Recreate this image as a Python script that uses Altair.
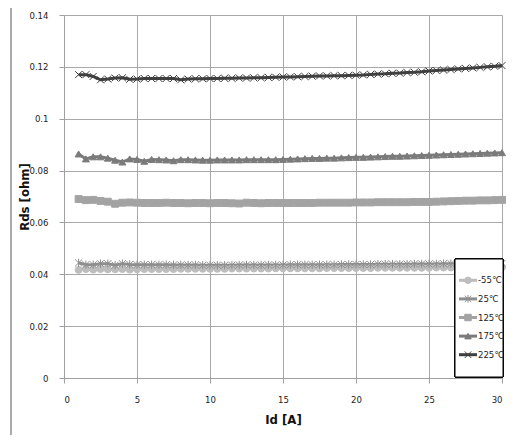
import altair as alt
import pandas as pd

# ---- data ----
id_a = [1.0, 1.5, 2.0, 2.5, 3.0, 3.5, 4.0, 4.5, 5.0, 5.5, 6.0, 6.5, 7.0, 7.5, 8.0, 8.5, 9.0, 9.5,
        10.0, 10.5, 11.0, 11.5, 12.0, 12.5, 13.0, 13.5, 14.0, 14.5, 15.0, 15.5, 16.0, 16.5, 17.0,
        17.5, 18.0, 18.5, 19.0, 19.5, 20.0, 20.5, 21.0, 21.5, 22.0, 22.5, 23.0, 23.5, 24.0, 24.5,
        25.0, 25.5, 26.0, 26.5, 27.0, 27.5, 28.0, 28.5, 29.0, 29.5, 30.0]

r_m55 = [0.0417, 0.0420, 0.0418, 0.0420, 0.0419, 0.0419, 0.0420, 0.0418, 0.0419, 0.0420, 0.0420,
         0.0420, 0.0420, 0.0420, 0.0421, 0.0421, 0.0421, 0.0421, 0.0421, 0.0421, 0.0421, 0.0422,
         0.0422, 0.0422, 0.0422, 0.0422, 0.0422, 0.0423, 0.0423, 0.0423, 0.0423, 0.0423, 0.0423,
         0.0423, 0.0424, 0.0424, 0.0424, 0.0424, 0.0424, 0.0424, 0.0424, 0.0425, 0.0425, 0.0425,
         0.0425, 0.0425, 0.0425, 0.0425, 0.0425, 0.0426, 0.0426, 0.0426, 0.0426, 0.0426, 0.0427,
         0.0427, 0.0427, 0.0427, 0.0427]
r_25 = [0.0444, 0.0437, 0.0437, 0.0441, 0.0441, 0.0435, 0.0441, 0.0438, 0.0437, 0.0437, 0.0437,
        0.0437, 0.0437, 0.0436, 0.0436, 0.0436, 0.0436, 0.0435, 0.0435, 0.0435, 0.0435, 0.0435,
        0.0436, 0.0436, 0.0436, 0.0436, 0.0436, 0.0436, 0.0436, 0.0437, 0.0437, 0.0437, 0.0437,
        0.0437, 0.0437, 0.0437, 0.0438, 0.0438, 0.0438, 0.0438, 0.0438, 0.0439, 0.0439, 0.0439,
        0.0439, 0.0439, 0.0440, 0.0440, 0.0440, 0.0440, 0.0441, 0.0441, 0.0441, 0.0441, 0.0441,
        0.0442, 0.0442, 0.0442, 0.0442]
r_125 = [0.0690, 0.0686, 0.0687, 0.0683, 0.0680, 0.0672, 0.0676, 0.0677, 0.0676, 0.0675, 0.0675,
         0.0675, 0.0676, 0.0675, 0.0675, 0.0674, 0.0675, 0.0675, 0.0674, 0.0675, 0.0675, 0.0674,
         0.0673, 0.0676, 0.0675, 0.0674, 0.0675, 0.0675, 0.0675, 0.0675, 0.0675, 0.0675, 0.0675,
         0.0676, 0.0676, 0.0676, 0.0676, 0.0676, 0.0677, 0.0677, 0.0677, 0.0678, 0.0678, 0.0678,
         0.0678, 0.0678, 0.0679, 0.0679, 0.0679, 0.0680, 0.0681, 0.0682, 0.0683, 0.0684, 0.0684,
         0.0685, 0.0685, 0.0686, 0.0687]
r_175 = [0.0864, 0.0845, 0.0853, 0.0853, 0.0848, 0.0840, 0.0833, 0.0845, 0.0843, 0.0836, 0.0843,
         0.0842, 0.0841, 0.0838, 0.0842, 0.0842, 0.0841, 0.0840, 0.0840, 0.0841, 0.0841, 0.0841,
         0.0841, 0.0842, 0.0842, 0.0842, 0.0842, 0.0842, 0.0843, 0.0844, 0.0845, 0.0846, 0.0847,
         0.0847, 0.0848, 0.0848, 0.0849, 0.0850, 0.0851, 0.0851, 0.0852, 0.0853, 0.0854, 0.0855,
         0.0855, 0.0856, 0.0857, 0.0858, 0.0859, 0.0860, 0.0861, 0.0862, 0.0863, 0.0864, 0.0865,
         0.0866, 0.0867, 0.0868, 0.0869]
r_225 = [0.1170, 0.1170, 0.1163, 0.1150, 0.1153, 0.1157, 0.1158, 0.1152, 0.1153, 0.1155, 0.1155,
         0.1155, 0.1155, 0.1155, 0.1150, 0.1153, 0.1154, 0.1154, 0.1155, 0.1155, 0.1156, 0.1156,
         0.1157, 0.1157, 0.1158, 0.1158, 0.1159, 0.1160, 0.1161, 0.1161, 0.1162, 0.1163, 0.1164,
         0.1165, 0.1165, 0.1166, 0.1166, 0.1167, 0.1168, 0.1169, 0.1171, 0.1172, 0.1173, 0.1175,
         0.1176, 0.1178, 0.1179, 0.1181, 0.1184, 0.1186, 0.1188, 0.1190, 0.1192, 0.1194, 0.1196,
         0.1198, 0.1200, 0.1202, 0.1205]

series = ["-55℃", "25℃", "125℃", "175℃", "225℃"]
colors = ["#BDBDBD", "#8E8E8E", "#A3A3A3", "#7B7B7B", "#3F3F3F"]
ASTER = "M-1,-1L1,1M-1,1L1,-1M0,-1.2L0,1.2"
XMARK = "M-1,-1L1,1M-1,1L1,-1"
shapes = ["circle", ASTER, "square", "triangle-up", XMARK]
y_ticks = [0, 0.02, 0.04, 0.06, 0.08, 0.1, 0.12, 0.14]
x_ticks = [0, 5, 10, 15, 20, 25, 30]

rows = []
for name, vals in zip(series, [r_m55, r_25, r_125, r_175, r_225]):
    for xv, yv in zip(id_a, vals):
        rows.append({"Id": xv, "Rds": yv, "series": name})
df = pd.DataFrame(rows)
leg_df = pd.DataFrame({"series": series})

FONT = "DejaVu Sans Condensed, Liberation Sans Narrow, Liberation Sans"
W, H = 438, 363

color_scale = alt.Scale(domain=series, range=colors)
shape_scale = alt.Scale(domain=series, range=shapes)

x_enc = alt.X("Id:Q", scale=alt.Scale(domain=[0, 30], nice=False),
              axis=alt.Axis(values=x_ticks, title="Id [A]", grid=True))
y_enc = alt.Y("Rds:Q", scale=alt.Scale(domain=[0, 0.14], nice=False),
              axis=alt.Axis(values=y_ticks, format="~g", title="Rds [ohm]", grid=True,
                            titleX=-33, titleY=H / 2))

base = alt.Chart(df)
lines = base.mark_line(strokeWidth=3).encode(
    x=x_enc, y=y_enc,
    color=alt.Color("series:N", scale=color_scale, legend=None),
    detail="series:N",
)
points = base.mark_point(filled=True, size=48, strokeWidth=1, opacity=1).encode(
    x="Id:Q", y="Rds:Q",
    fill=alt.Fill("series:N", scale=color_scale, legend=None),
    stroke=alt.Stroke("series:N", scale=color_scale, legend=None),
    shape=alt.Shape("series:N", scale=shape_scale, legend=None),
)
data_layer = alt.layer(lines, points)

frame_left = alt.Chart(leg_df).mark_rule(color="#A8A8A8", strokeWidth=1).encode(
    x=alt.value(-53), y=alt.value(-8), y2=alt.value(430)
)

leg_y = alt.Y("series:N", scale=alt.Scale(domain=series, range=[256, 349]), axis=None)
leg_box = alt.Chart(leg_df).mark_rect(fill="white", stroke="black", strokeWidth=1).encode(
    x=alt.value(391), x2=alt.value(439), y=alt.value(244), y2=alt.value(362)
)
leg_line = alt.Chart(leg_df).mark_rule(strokeWidth=3).encode(
    x=alt.value(395), x2=alt.value(413), y=leg_y,
    color=alt.Color("series:N", scale=color_scale, legend=None),
)
leg_pts = alt.Chart(leg_df).mark_point(filled=True, size=42, strokeWidth=1, opacity=1).encode(
    x=alt.value(404), y=leg_y,
    fill=alt.Fill("series:N", scale=color_scale, legend=None),
    stroke=alt.Stroke("series:N", scale=color_scale, legend=None),
    shape=alt.Shape("series:N", scale=shape_scale, legend=None),
)
leg_txt = alt.Chart(leg_df).mark_text(align="left", baseline="middle", fontSize=9.5,
                                      font=FONT, color="#222222").encode(
    x=alt.value(414), y=leg_y, text="series:N"
)
legend = alt.layer(leg_box, leg_line, leg_pts, leg_txt)

chart = alt.layer(frame_left, data_layer, legend).resolve_scale(
    y="independent"
).properties(
    width=W, height=H,
    autosize=alt.AutoSizeParams(type="none"),
    padding={"left": 56, "top": 7, "right": 14, "bottom": 57},
).configure_view(stroke=None).configure_axis(
    gridColor="#A9A9A9", gridWidth=1,
    domainColor="#A0A0A0", tickColor="#A0A0A0", tickSize=5,
    labelFont=FONT, labelFontSize=9.5, labelColor="#222222",
    titleFont=FONT, titleFontSize=13, titleFontWeight="bold", titleColor="#111111",
).configure_axisY(
    labelPadding=11,
).configure_axisX(
    labelPadding=11, titlePadding=10,
)

chart.save("out.html", embed_options={"renderer": "svg", "actions": False})
